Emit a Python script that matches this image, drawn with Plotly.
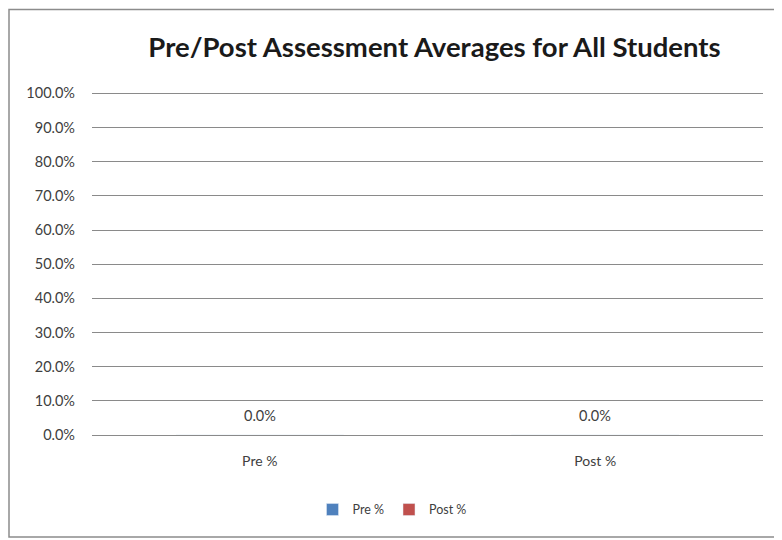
import plotly.graph_objects as go

categories = ["Pre %", "Post %"]
series_names = ["Pre %", "Post %"]
values = [0.0, 0.0]
colors = ["#4F81BD", "#C0504D"]
title_text = "Pre/Post Assessment Averages for All Students"

# page body has an 8px margin, so the figure's top-left sits at page (8, 8)
OFF = 8
W, H = 782 - OFF, 540 - OFF
YTOP = 1.01
plot_left, plot_right = 92, 763           # page px
plot_bottom, top_tick = 435, 93           # page px of 0% and 100%
ph = (plot_bottom - top_tick) * YTOP
ml = plot_left - OFF
mr = 782 - plot_right
mb = 540 - plot_bottom
mt = H - mb - ph
pw = W - ml - mr

fig = go.Figure()
for name, cat, val, col in zip(series_names, categories, values, colors):
    fig.add_trace(go.Bar(
        name=name, x=[cat], y=[val], marker_color=col,
        cliponaxis=False, width=0.5,
    ))
    fig.add_annotation(x=cat, y=val, text=f"{val*100:.1f}%", showarrow=False,
                       yshift=20, font=dict(size=14.5, color="#404040", family="Lato"))

def px_x(p):
    return (p - OFF - ml) / pw

def px_y(p):
    return (H - mb - (p - OFF)) / ph

fig.add_shape(type="rect", xref="paper", yref="paper",
              x0=px_x(9), x1=px_x(780), y0=px_y(537), y1=px_y(9),
              line=dict(color="#8c8c8c", width=1.5), layer="below")

fig.update_layout(
    width=W, height=H,
    margin=dict(l=ml, r=mr, t=mt, b=mb),
    paper_bgcolor="white", plot_bgcolor="white",
    barmode="overlay",
    title=dict(text=f"<b>{title_text}</b>", x=((147 + 722) / 2 - OFF) / W, xanchor="center",
               y=1 - (47 - OFF) / H, yanchor="middle",
               font=dict(family="Lato", size=27.5, color="#1a1a1a")),
    font=dict(family="Lato", color="#404040"),
    showlegend=True,
    legend=dict(orientation="h", x=px_x(392), xanchor="center",
                y=px_y(510), yanchor="middle", font=dict(size=12.5, color="#404040"),
                itemwidth=30, traceorder="normal"),
)
fig.update_yaxes(range=[0, YTOP], dtick=0.1, tickformat=".1%", showgrid=True,
                 gridcolor="#8a8a8a", gridwidth=1.4, zeroline=False, showline=False,
                 ticks="", tickfont=dict(size=14.5, color="#404040"), ticklabelstandoff=16,
                 fixedrange=True)
fig.update_xaxes(showgrid=False, showline=True, linecolor="#8a8a8a", linewidth=1.4,
                 ticks="", tickfont=dict(size=14, color="#404040"), ticklabelstandoff=13,
                 categoryorder="array", categoryarray=categories)

fig.write_html("out.html")
